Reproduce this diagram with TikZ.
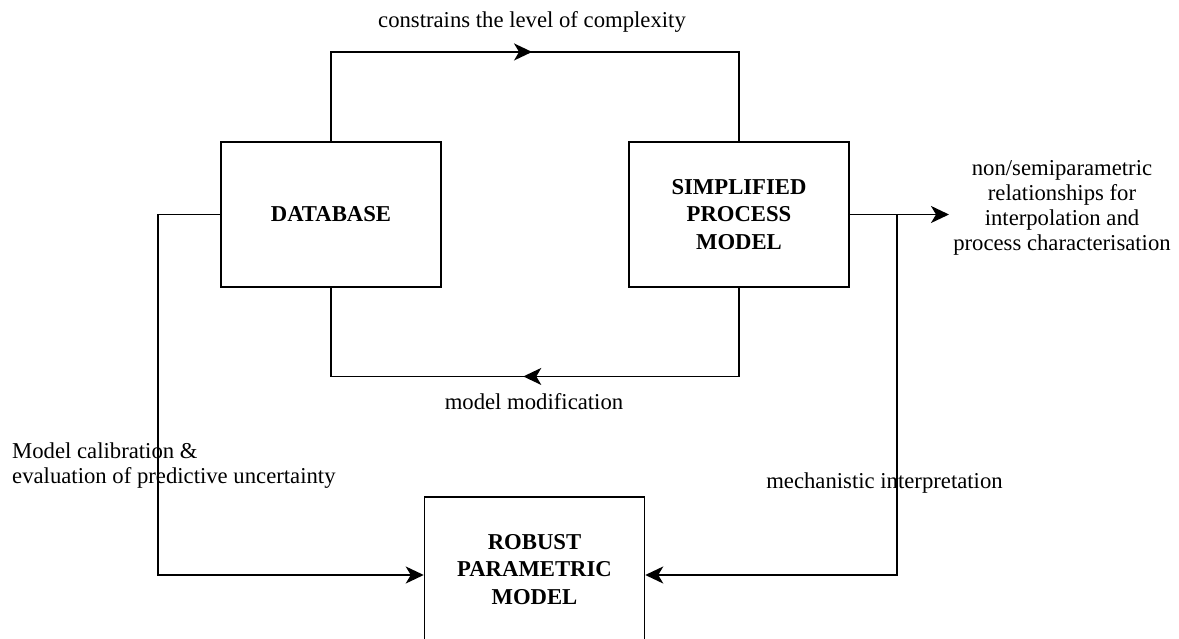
\documentclass[tikz,border=0pt]{standalone}
\usepackage{fontspec}
\setmainfont{Liberation Serif}
\usetikzlibrary{arrows.meta,decorations.markings}
\begin{document}
\begin{tikzpicture}[x=1pt,y=-1pt,
  box/.style={draw,line width=1.5pt,minimum width=220pt,minimum height=145pt,inner sep=0pt,align=center,font=\fontsize{22.7}{27.5}\selectfont\bfseries},
  lbl/.style={inner sep=0pt,align=center,font=\fontsize{22.7}{25}\selectfont},
  conn/.style={line width=1.8pt},
  arr/.style={-{Stealth[length=18pt,width=17pt,inset=5pt]}},
  midarrow/.style={postaction={decorate},decoration={markings,mark=at position #1 with {\arrow{Stealth[length=18pt,width=17pt,inset=5pt]}}}}
]
\useasboundingbox (0,0) rectangle (1179,639);
\begin{scope}
\clip (0,0) rectangle (1179,639);
\node[box] (db) at (331,214.5) {DATABASE};
\node[box] (spm) at (739,214.5) {SIMPLIFIED\\PROCESS\\MODEL};
\node[box] (rpm) at (534.5,569.5) {ROBUST\\PARAMETRIC\\MODEL};

\coordinate (ry) at (0,575);
\coordinate (lx) at (158,0);
\coordinate (out) at (949,214.5);
\coordinate (br) at (897,214.5);

\draw[conn,midarrow=0.495] (db.north) -- ++(0,-89.3) -| (spm.north);
\draw[conn,midarrow=0.52] (spm.south) -- ++(0,88.7) -| (db.south);
\draw[conn,arr] (spm.east) -- (out);
\draw[conn,arr] (br) -- (br |- ry) -- (rpm.east |- ry);
\draw[conn,arr] (db.west) -- (lx |- db.west) -- (lx |- ry) -- (rpm.west |- ry);

\node[lbl] (t1) at (532,22) {constrains the level of complexity};
\node[lbl] (t2) at (534,402) {model modification};
\node[lbl] (t3) at (1062,207.5) {non/semiparametric\\relationships for\\interpolation and\\process characterisation};
\node[lbl] (t4) at (884.5,483) {mechanistic interpretation};
\node[lbl,anchor=west,align=left] (t5) at (12,465.5) {Model calibration \&\\evaluation of predictive uncertainty};
\end{scope}
\end{tikzpicture}
\end{document}
